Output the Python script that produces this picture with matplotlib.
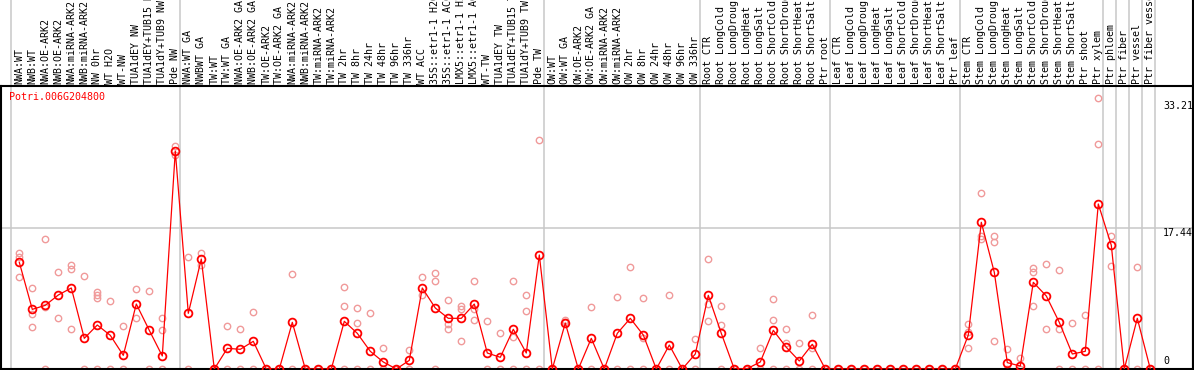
import matplotlib
matplotlib.use("Agg")
import matplotlib.pyplot as plt
import matplotlib.transforms as mtransforms
import numpy as np

gene = "Potri.006G204800"

categories = [
    # NW group
    "NWA:WT", "NWB:WT", "NWA:OE-ARK2", "NWB:OE-ARK2", "NWA:miRNA-ARK2", "NWB:miRNA-ARK2",
    "NW 0hr", "WT H2O", "WT-NW", "TUA1dEY NW", "TUA1dEY+TUB15 NW", "TUA1dY+TUB9 NW", "Pde NW",
    # TW group
    "NWA:WT GA", "NWBWT GA", "TW:WT", "TW:WT GA", "NWA:OE-ARK2 GA", "NWB:OE-ARK2 GA",
    "TW:OE-ARK2", "TW:OE-ARK2 GA", "NWA:miRNA-ARK2", "NWB:miRNA-ARK2", "TW:miRNA-ARK2",
    "TW:miRNA-ARK2", "TW 2hr", "TW 8hr", "TW 24hr", "TW 48hr", "TW 96hr", "TW 336hr",
    "WT ACC", "35S::etr1-1 H2O", "35S::etr1-1 ACC", "LMX5::etr1-1 H2O", "LMX5::etr1-1 ACC",
    "WT-TW", "TUA1dEY TW", "TUA1dEY+TUB15 TW", "TUA1dY+TUB9 TW", "Pde TW",
    # OW group
    "OW:WT", "OW:WT GA", "OW:OE-ARK2", "OW:OE-ARK2 GA", "OW:miRNA-ARK2", "OW:miRNA-ARK2",
    "OW 2hr", "OW 8hr", "OW 24hr", "OW 48hr", "OW 96hr", "OW 336hr",
    # Root
    "Root CTR", "Root LongCold", "Root LongDrought", "Root LongHeat", "Root LongSalt",
    "Root ShortCold", "Root ShortDrought", "Root ShortHeat", "Root ShortSalt", "Ptr root",
    # Leaf
    "Leaf CTR", "Leaf LongCold", "Leaf LongDrought", "Leaf LongHeat", "Leaf LongSalt",
    "Leaf ShortCold", "Leaf ShortDrought", "Leaf ShortHeat", "Leaf ShortSalt", "Ptr leaf",
    # Stem
    "Stem CTR", "Stem LongCold", "Stem LongDrought", "Stem LongHeat", "Stem LongSalt",
    "Stem ShortCold", "Stem ShortDrought", "Stem ShortHeat", "Stem ShortSalt", "Ptr shoot",
    "Ptr xylem",
    "Ptr phloem", "Ptr fiber", "Ptr vessel", "Ptr fiber vessel",
]

group_sizes = [13, 28, 12, 10, 10, 11, 1, 1, 1, 1]

mean_values = [
    13.22, 7.39, 7.89, 9.17, 10.04, 3.80, 5.45, 4.17, 1.69, 8.05, 4.79, 1.61, 27.01,
    6.90, 13.63, 0, 2.56, 2.44, 3.43, 0, 0, 5.78, 0, 0, 0, 5.91, 4.42, 2.19, 0.87, 0,
    1.07, 10.04, 7.56, 6.28, 6.28, 8.05, 1.98, 1.45, 4.92, 1.98, 14.13,
    0, 5.70, 0, 3.80, 0, 4.42, 6.28, 4.21, 0, 2.97, 0, 1.86,
    9.13, 4.42, 0, 0.05, 0.87, 4.79, 2.69, 0.99, 3.06, 0,
    0, 0, 0, 0, 0, 0, 0, 0, 0, 0,
    4.21, 18.18, 11.98, 0.79, 0.37, 10.74, 9.05, 5.78, 1.86, 2.19, 20.45,
    15.33, 0, 6.28, 0,
]

replicates = [
    [14.41, 13.92, 11.36], [10.04, 6.86, 5.17], [16.07, 7.65, 0], [11.98, 6.32],
    [12.85, 12.43, 4.92], [11.52, 0], [9.58, 9.17, 8.76, 0], [8.39, 0], [5.33, 0],
    [9.91, 6.32], [9.62, 0], [6.28, 4.79, 0], [27.63, 26.52],
    [13.84, 0], [14.34, 12.85], [0], [5.33, 0], [4.92, 0], [7.02, 0], [0], [0],
    [11.73, 0], [0], [0], [0], [10.12, 7.77, 0], [7.56, 5.66, 0], [6.90, 0], [2.56, 0],
    [0], [2.31, 0], [11.36, 9.17], [11.86, 10.87, 0], [8.55, 5.54, 4.92],
    [7.77, 7.43, 3.43], [10.87, 7.43, 6.03], [5.91, 0], [4.42, 0], [10.87, 4.0, 0],
    [9.17, 7.15, 0], [28.34, 0],
    [0], [6.07, 5.8], [0], [7.65, 0], [0], [8.88, 0], [12.6, 0], [8.76, 3.8, 0], [0],
    [9.13, 0], [0], [3.68, 0],
    [13.59, 8.05, 5.91], [7.77, 5.45, 0], [0], [0], [2.56, 0], [8.64, 6.03, 0],
    [4.92, 3.18, 0], [3.18, 0], [6.65, 2.56, 0], [0],
    [0], [0], [0], [0], [0], [0], [0], [0], [0], [0],
    [5.58, 4.63, 2.56], [21.77, 16.52, 16.07], [16.52, 15.78, 3.43], [2.44, 0],
    [1.32, 0], [12.55, 12.06, 7.77], [12.97, 4.92], [12.23, 4.99, 0], [5.66, 0],
    [6.65, 0], [33.54, 27.84, 0],
    [16.52, 12.80], [0], [12.6, 0], [0],
]

ytick_values = [33.21, 17.44, 0]

W, H = 1194, 370
fig = plt.figure(figsize=(W / 100, H / 100), dpi=100)
ax_left, ax_right, ax_top, ax_bottom = 1, 1193, 86, 369
ax = fig.add_axes([ax_left / W, (H - ax_bottom) / H,
                   (ax_right - ax_left) / W, (ax_bottom - ax_top) / H])

x = np.arange(len(categories))
px_per_unit = 8.07
x0, dx = 19.3, 13.0
ax.set_xlim((ax_left - x0) / dx, (ax_right - x0) / dx)
ax.set_ylim(0, (ax_bottom - ax_top) / px_per_unit)

mono = "DejaVu Sans Mono"
fs = 7.2

# horizontal grid line at middle value
ax.axhline(ytick_values[1], color="#c8c8c8", lw=1.1, zorder=0)

# group separators extending into label area
top_ext = ax_bottom / (ax_bottom - ax_top)
bounds = np.cumsum([0] + group_sizes)
for b in bounds:
    ax.axvline(b - 0.62, ymin=0, ymax=top_ext, color="#c8c8c8", lw=1.1,
               clip_on=False, zorder=0)
# right border extends up
ax.axvline(ax.get_xlim()[1], ymin=0, ymax=top_ext, color="black", lw=1.5, clip_on=False)

# replicates
for i, reps in enumerate(replicates):
    ax.plot([i] * len(reps), reps, linestyle="none", marker="o", markersize=4.6,
            markerfacecolor="none", markeredgecolor="#f09a9a", markeredgewidth=1.0,
            zorder=2)

# mean line
ax.plot(x, mean_values, color="#ff0000", lw=0.9, marker="o", markersize=5.6,
        markerfacecolor="none", markeredgecolor="#ff0000", markeredgewidth=1.3, zorder=3)

# category labels
label_y = 1 + (ax_top - 84) / (ax_bottom - ax_top)
for i, lab in enumerate(categories):
    ax.text(i, label_y, lab, rotation=90, ha="center", va="bottom", fontsize=fs,
            family=mono, transform=mtransforms.blended_transform_factory(ax.transData, ax.transAxes),
            clip_on=False)

# gene name
ax.text((9.3 - ax_left) / (ax_right - ax_left), (ax_bottom - 92) / (ax_bottom - ax_top),
        gene, color="#ff0000", fontsize=fs, family=mono, ha="left", va="top",
        transform=ax.transAxes)

# y value labels
bt = mtransforms.blended_transform_factory(ax.transAxes, ax.transData)
xl = (1163 - ax_left) / (ax_right - ax_left)
ax.text(xl, ytick_values[0], f"{ytick_values[0]:.2f}", fontsize=fs, family=mono,
        ha="left", va="top", transform=bt)
ax.text(xl, ytick_values[1], f"{ytick_values[1]:.2f}", fontsize=fs, family=mono,
        ha="left", va="top", transform=bt)
ax.text(xl, 0.4, "0", fontsize=fs, family=mono, ha="left", va="bottom", transform=bt)

ax.set_xticks([])
ax.set_yticks([])
for s in ax.spines.values():
    s.set_linewidth(1.5)
    s.set_color("black")

fig.savefig("out.png", dpi=100)
